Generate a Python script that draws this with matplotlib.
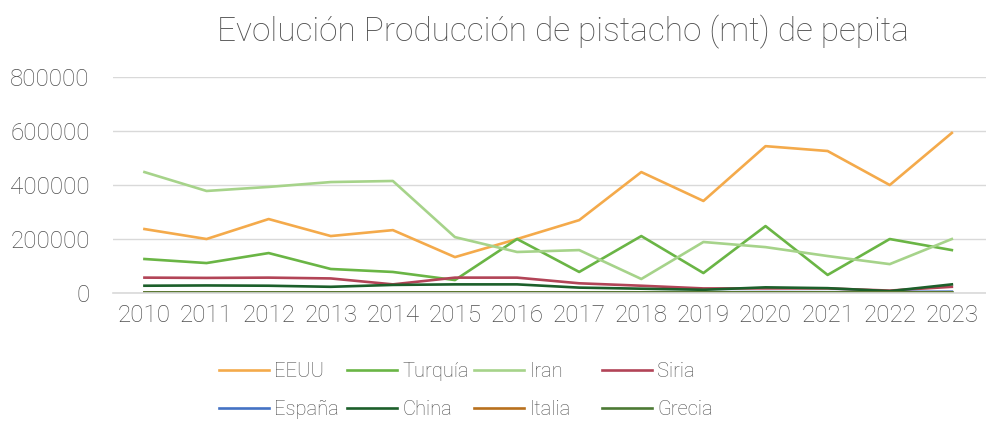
import numpy as np
import matplotlib.pyplot as plt

years = [2010, 2011, 2012, 2013, 2014, 2015, 2016, 2017, 2018, 2019, 2020, 2021, 2022, 2023]

eeuu = [237000, 200000, 274000, 211000, 233000, 133000, 200000, 270000, 448000, 341000, 544000, 526000, 400000, 593000]
turquia = [126000, 111000, 148000, 89000, 78000, 48000, 200000, 78000, 211000, 74000, 248000, 67000, 200000, 159000]
iran = [448000, 378000, 393000, 411000, 415000, 207000, 152000, 159000, 52000, 189000, 170000, 137000, 107000, 200000]
siria = [57000, 56000, 57000, 54000, 32000, 57000, 57000, 36000, 27000, 17000, 17000, 17000, 9000, 23000]
espana = [1000, 1000, 1000, 1000, 1500, 1500, 2000, 2000, 2500, 3000, 3500, 3000, 4000, 5000]
china = [27000, 28000, 27000, 23000, 30000, 32000, 32000, 20000, 16000, 12000, 21000, 18000, 7000, 32000]
italia = [2000, 2000, 2000, 2000, 2000, 2500, 2500, 2000, 2000, 2000, 2500, 2000, 2000, 2500]
grecia = [5000, 5000, 5000, 5000, 5000, 5000, 5000, 5000, 5000, 5000, 5000, 5000, 5000, 5000]

series = [
    ("EEUU", eeuu, "#F4AA4B"),
    ("Turquía", turquia, "#6AB545"),
    ("Iran", iran, "#A6D38A"),
    ("Siria", siria, "#B24457"),
    ("España", espana, "#4472C4"),
    ("China", china, "#1C5F2A"),
    ("Italia", italia, "#B8701D"),
    ("Grecia", grecia, "#4C7A34"),
]

text_color = "#4F4F4F"
plt.rcParams['font.family'] = ['Roboto', 'DejaVu Sans']
plt.rcParams['font.weight'] = 'light'

fig = plt.figure(figsize=(9.86, 4.21), dpi=100)
ax = fig.add_axes([0.115, 0.304, 0.885, 0.513])

x = np.arange(len(years))
lines = {}
for name, vals, col in series:
    lines[name], = ax.plot(x, vals, color=col, linewidth=1.9, label=name)

ax.set_xlim(-0.5, len(years) - 0.45)
ax.set_ylim(0, 800000)
ax.set_yticks(np.arange(0, 800001, 200000))
ax.set_yticklabels([str(v) for v in range(0, 800001, 200000)])
ax.set_xticks(x)
ax.set_xticklabels([str(y) for y in years])
ax.grid(axis='y', color='#D9D9D9', linewidth=1)
ax.set_axisbelow(True)
for s in ['top', 'right', 'left']:
    ax.spines[s].set_visible(False)
ax.spines['bottom'].set_color('#D9D9D9')
ax.spines['bottom'].set_linewidth(1.2)
ax.tick_params(axis='both', length=0, labelsize=17.5, colors=text_color, pad=8)
ax.tick_params(axis='y', pad=17)

fig.text(0.571, 0.925, "Evolución Producción de pistacho (mt) de pepita",
         ha='center', va='center', fontsize=24, color=text_color)

# Excel-style legend: equal-width columns, filled row by row
legend_rows = [["EEUU", "Turquía", "Iran", "Siria"],
               ["España", "China", "Italia", "Grecia"]]
col_x = [219, 347, 474, 602]
for i, cx in enumerate(col_x):
    names = [legend_rows[0][i], legend_rows[1][i]]
    fig.legend([lines[n] for n in names], names, loc='upper left',
               bbox_to_anchor=(cx / 986, 1 - 362 / 421), ncol=1, frameon=False,
               fontsize=14.5, labelcolor=text_color, handlelength=2.5,
               handletextpad=0.25, borderpad=0, borderaxespad=0,
               labelspacing=0.95)

plt.savefig("out.png", dpi=100)
plt.close()
